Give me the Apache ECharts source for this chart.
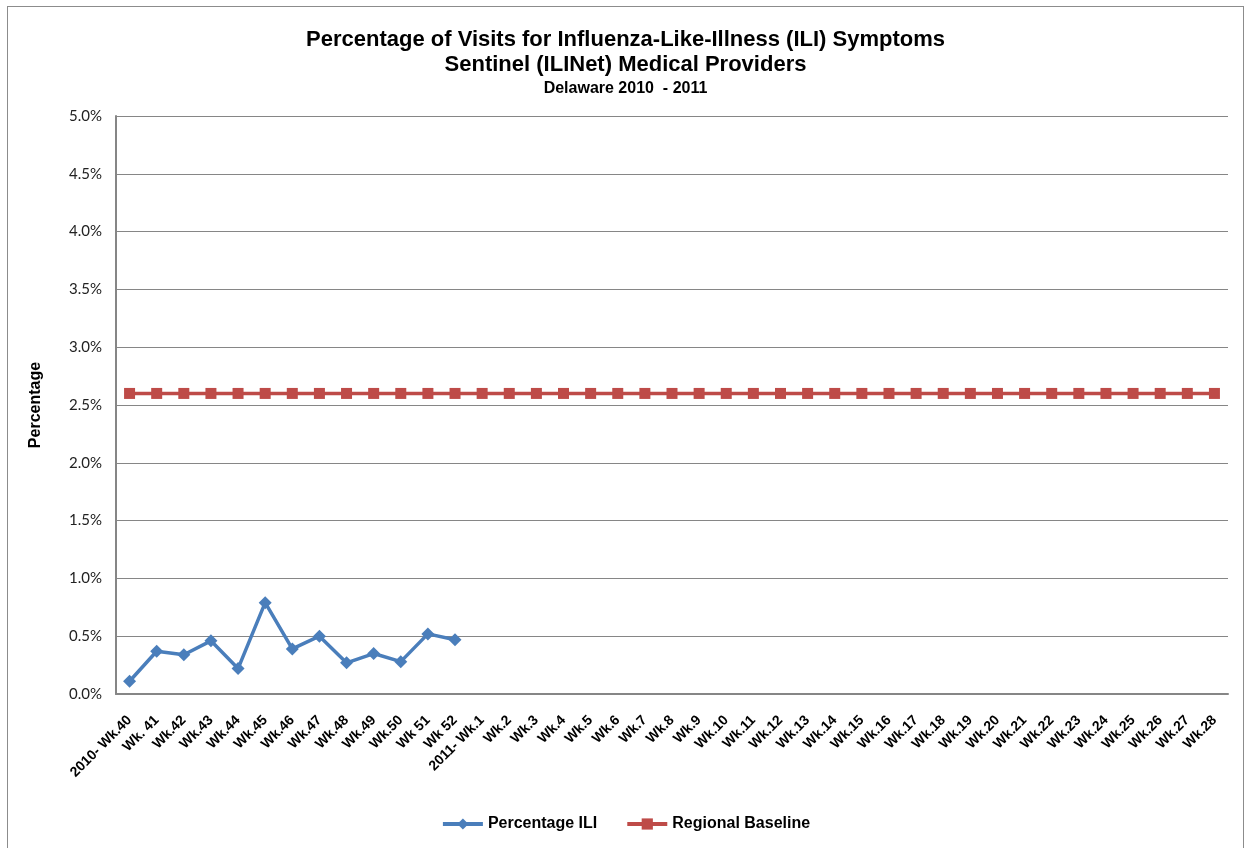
<!DOCTYPE html>
<html><head><meta charset="utf-8">
<script src="https://cdn.jsdelivr.net/npm/echarts@6/dist/echarts.min.js"></script>
<style>
html,body{margin:0;padding:0;background:#fff;}
#frame{position:absolute;left:7px;top:6px;width:1237px;height:850px;border:1px solid #8c8c8c;box-sizing:border-box;}
#c{position:absolute;left:0;top:0;width:1251px;height:848px;}
</style></head><body>
<div id="frame"></div>
<div id="c"></div>
<script>
const weeks2010 = ['2010- Wk.40','Wk. 41','Wk.42','Wk.43','Wk.44','Wk.45','Wk.46','Wk.47','Wk.48','Wk.49','Wk.50','Wk 51','Wk 52'];
const weeks2011 = ['2011- Wk.1','Wk.2','Wk.3','Wk.4','Wk.5','Wk.6','Wk.7','Wk.8','Wk.9','Wk.10','Wk.11','Wk.12','Wk.13','Wk.14','Wk.15','Wk.16','Wk.17','Wk.18','Wk.19','Wk.20','Wk.21','Wk.22','Wk.23','Wk.24','Wk.25','Wk.26','Wk.27','Wk.28'];
const categories = weeks2010.concat(weeks2011);
const percentageILI = [0.11,0.37,0.34,0.46,0.22,0.79,0.39,0.50,0.27,0.35,0.28,0.52,0.47];
const regionalBaseline = [2.6,2.6,2.6,2.6,2.6,2.6,2.6,2.6,2.6,2.6,2.6,2.6,2.6,2.6,2.6,2.6,2.6,2.6,2.6,2.6,2.6,2.6,2.6,2.6,2.6,2.6,2.6,2.6,2.6,2.6,2.6,2.6,2.6,2.6,2.6,2.6,2.6,2.6,2.6,2.6,2.6];
const yTicks = [0,0.5,1,1.5,2,2.5,3,3.5,4,4.5,5];

const chart = echarts.init(document.getElementById('c'), null, {renderer:'canvas'});
chart.setOption({
  animation:false,
  backgroundColor:'transparent',
  title:[
    {text:'Percentage of Visits for Influenza-Like-Illness (ILI) Symptoms', left:'center', top:24,
     textStyle:{fontFamily:'Liberation Sans', fontWeight:'bold', fontSize:22, color:'#000'}},
    {text:'Sentinel (ILINet) Medical Providers', left:'center', top:49,
     textStyle:{fontFamily:'Liberation Sans', fontWeight:'bold', fontSize:22, color:'#000'}},
    {text:'Delaware 2010  - 2011', left:'center', top:76,
     textStyle:{fontFamily:'Liberation Sans', fontWeight:'bold', fontSize:16, color:'#000'}}
  ],
  legend:{
    bottom:11, left:'center', itemWidth:40, itemHeight:14, itemGap:28,
    lineStyle:{width:4},
    textStyle:{fontFamily:'Liberation Sans', fontWeight:'bold', fontSize:16, color:'#000'},
    data:['Percentage ILI','Regional Baseline']
  },
  grid:{left:116, right:23, top:116, bottom:154, containLabel:false},
  xAxis:{
    type:'category', data:categories, boundaryGap:true,
    axisLine:{lineStyle:{color:'#868686', width:2}},
    axisTick:{show:false},
    axisLabel:{rotate:45, interval:0, margin:24, fontFamily:'Liberation Sans', fontWeight:'bold', fontSize:14, color:'#000'}
  },
  yAxis:{
    type:'value', min:0, max:5, interval:0.5,
    name:'Percentage', nameLocation:'middle', nameGap:72, nameRotate:90,
    nameTextStyle:{fontFamily:'Liberation Sans', fontWeight:'bold', fontSize:16, color:'#000'},
    axisLine:{show:true, lineStyle:{color:'#868686', width:2}},
    axisTick:{show:false},
    splitLine:{lineStyle:{color:'#868686', width:1}},
    axisLabel:{margin:14, fontFamily:'Lato', fontSize:15, color:'#222',
      formatter:function(v){return v.toFixed(1)+'%';}}
  },
  series:[
    {name:'Percentage ILI', type:'line', data:percentageILI, symbol:'diamond', symbolSize:13,
     lineStyle:{color:'#4A7EBB', width:3.5}, itemStyle:{color:'#4A7EBB'}, z:3},
    {name:'Regional Baseline', type:'line', data:regionalBaseline, symbol:'rect', symbolSize:11,
     lineStyle:{color:'#BE4B48', width:3.5}, itemStyle:{color:'#BE4B48'}, z:2}
  ]
});
</script>
</body></html>
